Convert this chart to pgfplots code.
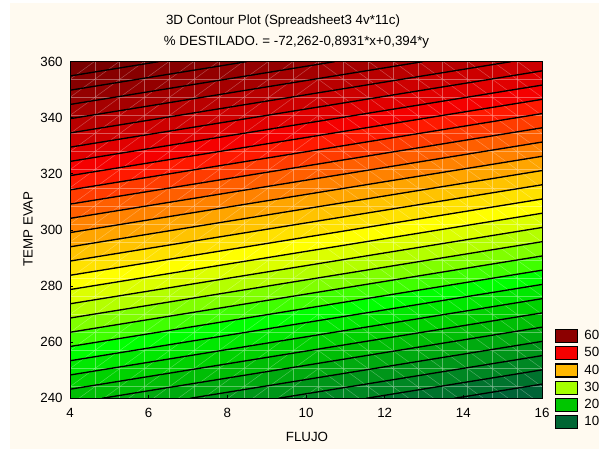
\documentclass[border=0pt]{standalone}
\usepackage{fontspec}
\setmainfont{Liberation Sans}
\usepackage{pgfplots}
\pgfplotsset{compat=1.18}
\definecolor{cream}{RGB}{255,250,240}
\definecolor{c60}{RGB}{140,0,0}
\definecolor{c50}{RGB}{245,0,0}
\definecolor{c40}{RGB}{255,183,0}
\definecolor{c30}{RGB}{165,255,0}
\definecolor{c20}{RGB}{0,198,0}
\definecolor{c10}{RGB}{0,102,51}
\pgfplotsset{
  sw/.style={legend image code/.code={\draw[fill=#1,draw=black,line width=0.9pt] (0pt,-4.875pt) rectangle (16.5pt,4.875pt);}},
}
\begin{document}
\begin{tikzpicture}[font=\fontsize{10}{12}\selectfont]
\path[use as bounding box, fill=white] (-52.5pt,-38.025pt) rectangle (396.75pt,298.725pt);
\fill[cream] (-45pt,-38.025pt) rectangle (396.75pt,296.475pt);
\begin{axis}[
  at={(0pt,0pt)}, anchor=south west,
  scale only axis, width=354pt, height=252.45pt,
  xmin=4, xmax=16, ymin=240, ymax=360,
  xtick={4,6,...,16}, ytick={240,260,...,360},
  tick align=inside, xtick pos=bottom, ytick pos=left,
  major tick length=2.25pt,
  axis line style={line width=0.75pt},
  every tick/.style={black, line width=0.6pt},
  axis on top,
  point meta min=6, point meta max=68,
  colormap={stat}{
    rgb255(0pt)=(0,90,55) rgb255(2pt)=(0,100,55) rgb255(4pt)=(0,115,45) rgb255(6pt)=(0,135,35)
    rgb255(8pt)=(0,150,25) rgb255(10pt)=(0,170,15) rgb255(12pt)=(0,190,5) rgb255(14pt)=(0,210,0)
    rgb255(16pt)=(0,232,0) rgb255(18pt)=(0,255,0) rgb255(20pt)=(64,255,0) rgb255(22pt)=(128,255,0)
    rgb255(24pt)=(180,255,0) rgb255(26pt)=(220,255,0) rgb255(28pt)=(255,255,0) rgb255(30pt)=(255,225,0)
    rgb255(32pt)=(255,195,0) rgb255(34pt)=(255,165,0) rgb255(36pt)=(255,130,0) rgb255(38pt)=(255,95,0)
    rgb255(40pt)=(255,60,0) rgb255(42pt)=(255,25,0) rgb255(44pt)=(245,0,0) rgb255(46pt)=(225,0,0)
    rgb255(48pt)=(205,0,0) rgb255(50pt)=(185,0,0) rgb255(52pt)=(165,0,0) rgb255(54pt)=(148,0,0)
    rgb255(56pt)=(135,0,0) rgb255(58pt)=(122,0,0) rgb255(60pt)=(115,0,0) rgb255(62pt)=(115,0,0)
  },
  unbounded coords=jump,
  /pgf/number format/assume math mode=true,
  ticklabel style={font=\fontsize{10}{12}\selectfont},
  xticklabel style={yshift=-4pt},
  yticklabel style={xshift=-2pt},
  legend style={at={(axis description cs:1.0269,0.2068)}, anchor=north west,
    draw=none, fill=none, inner sep=0pt, row sep=2.25pt, column sep=4.7pt,
    nodes={inner sep=0pt, font=\fontsize{10}{12}\selectfont}},
  legend cell align=left,
]
% response surface (linear), corner values
\addplot[patch, shader=interp, colormap access=piecewise constant, point meta=explicit, forget plot]
  table[meta=z] {
x y z
4 240 18.7256
16 240 8.0084
16 360 55.2884
4 240 18.7256
16 360 55.2884
4 360 66.0056
};
% faint mesh lines
\addplot[white, opacity=0.35, line width=0.4pt, forget plot] table {
x y
4 244.14
16 244.14
nan nan
4 250.59
16 250.59
nan nan
4 257.03
16 257.03
nan nan
4 263.48
16 263.48
nan nan
4 269.92
16 269.92
nan nan
4 276.37
16 276.37
nan nan
4 282.82
16 282.82
nan nan
4 289.26
16 289.26
nan nan
4 295.71
16 295.71
nan nan
4 302.15
16 302.15
nan nan
4 308.60
16 308.60
nan nan
4 315.05
16 315.05
nan nan
4 321.49
16 321.49
nan nan
4 327.94
16 327.94
nan nan
4 334.38
16 334.38
nan nan
4 340.83
16 340.83
nan nan
4 347.28
16 347.28
nan nan
4 353.72
16 353.72
nan nan
4.632 240
4.632 360
nan nan
5.263 240
5.263 360
nan nan
5.895 240
5.895 360
nan nan
6.526 240
6.526 360
nan nan
7.158 240
7.158 360
nan nan
7.789 240
7.789 360
nan nan
8.421 240
8.421 360
nan nan
9.053 240
9.053 360
nan nan
9.684 240
9.684 360
nan nan
10.316 240
10.316 360
nan nan
10.947 240
10.947 360
nan nan
11.579 240
11.579 360
nan nan
12.211 240
12.211 360
nan nan
12.842 240
12.842 360
nan nan
13.474 240
13.474 360
nan nan
14.105 240
14.105 360
nan nan
14.737 240
14.737 360
nan nan
15.368 240
15.368 360
nan nan
};
\addplot[white, opacity=0.3, line width=0.35pt, forget plot] table {
x y
4 179.68
10.316 244.14
nan nan
4 186.13
10.316 250.59
nan nan
4 192.57
10.316 257.03
nan nan
4 199.02
10.316 263.48
nan nan
4 205.46
10.316 269.92
nan nan
4 211.91
10.316 276.37
nan nan
4 218.36
10.316 282.82
nan nan
4 224.80
10.316 289.26
nan nan
4 231.25
10.316 295.71
nan nan
4 237.69
10.316 302.15
nan nan
4 244.14
10.316 308.60
nan nan
4 250.59
10.316 315.05
nan nan
4 257.03
10.316 321.49
nan nan
4 263.48
10.316 327.94
nan nan
4 269.92
10.316 334.38
nan nan
4 276.37
10.316 340.83
nan nan
4 282.82
10.316 347.28
nan nan
4 289.26
10.316 353.72
nan nan
4 295.71
10.316 360.17
nan nan
4 302.15
10.316 366.61
nan nan
4 308.60
10.316 373.06
nan nan
4 315.05
10.316 379.51
nan nan
4 321.49
10.316 385.95
nan nan
4 327.94
10.316 392.40
nan nan
4 334.38
10.316 398.84
nan nan
4 340.83
10.316 405.29
nan nan
4 347.28
10.316 411.74
nan nan
4 353.72
10.316 418.18
nan nan
4 360.17
10.316 424.63
nan nan
10.316 244.14
16 186.13
nan nan
10.316 250.59
16 192.57
nan nan
10.316 257.03
16 199.02
nan nan
10.316 263.48
16 205.46
nan nan
10.316 269.92
16 211.91
nan nan
10.316 276.37
16 218.36
nan nan
10.316 282.82
16 224.80
nan nan
10.316 289.26
16 231.25
nan nan
10.316 295.71
16 237.69
nan nan
10.316 302.15
16 244.14
nan nan
10.316 308.60
16 250.59
nan nan
10.316 315.05
16 257.03
nan nan
10.316 321.49
16 263.48
nan nan
10.316 327.94
16 269.92
nan nan
10.316 334.38
16 276.37
nan nan
10.316 340.83
16 282.82
nan nan
10.316 347.28
16 289.26
nan nan
10.316 353.72
16 295.71
nan nan
10.316 360.17
16 302.15
nan nan
10.316 366.61
16 308.60
nan nan
10.316 373.06
16 315.05
nan nan
10.316 379.51
16 321.49
nan nan
10.316 385.95
16 327.94
nan nan
10.316 392.40
16 334.38
nan nan
10.316 398.84
16 340.83
nan nan
10.316 405.29
16 347.28
nan nan
10.316 411.74
16 353.72
nan nan
10.316 418.18
16 360.17
nan nan
};
% contour lines, every 2 units
\addplot[black, line width=1pt, forget plot] table {
x y
13.770 240
16 245.055
nan nan
11.531 240
16 250.131
nan nan
9.291 240
16 255.207
nan nan
7.052 240
16 260.283
nan nan
4.812 240
16 265.359
nan nan
4 243.234
16 270.435
nan nan
4 248.310
16 275.511
nan nan
4 253.387
16 280.587
nan nan
4 258.463
16 285.663
nan nan
4 263.539
16 290.739
nan nan
4 268.615
16 295.815
nan nan
4 273.691
16 300.891
nan nan
4 278.767
16 305.967
nan nan
4 283.843
16 311.043
nan nan
4 288.919
16 316.119
nan nan
4 293.995
16 321.195
nan nan
4 299.071
16 326.271
nan nan
4 304.147
16 331.347
nan nan
4 309.223
16 336.423
nan nan
4 314.299
16 341.499
nan nan
4 319.375
16 346.575
nan nan
4 324.451
16 351.651
nan nan
4 329.527
16 356.727
nan nan
4 334.603
15.203 360
nan nan
4 339.679
12.964 360
nan nan
4 344.755
10.724 360
nan nan
4 349.831
8.485 360
nan nan
4 354.907
6.246 360
nan nan
};
\addlegendimage{sw=c60}\addlegendentry{60}
\addlegendimage{sw=c50}\addlegendentry{50}
\addlegendimage{sw=c40}\addlegendentry{40}
\addlegendimage{sw=c30}\addlegendentry{30}
\addlegendimage{sw=c20}\addlegendentry{20}
\addlegendimage{sw=c10}\addlegendentry{10}
\end{axis}
\node at (159.75pt,282.975pt) {3D Contour Plot (Spreadsheet3 4v*11c)};
\node at (169.875pt,267.225pt) {\% DESTILADO. = -72,262-0,8931*x+0,394*y};
\node at (177.75pt,-29pt) {FLUJO};
\node[rotate=90] at (-31.5pt,127pt) {TEMP EVAP};
\end{tikzpicture}
\end{document}
